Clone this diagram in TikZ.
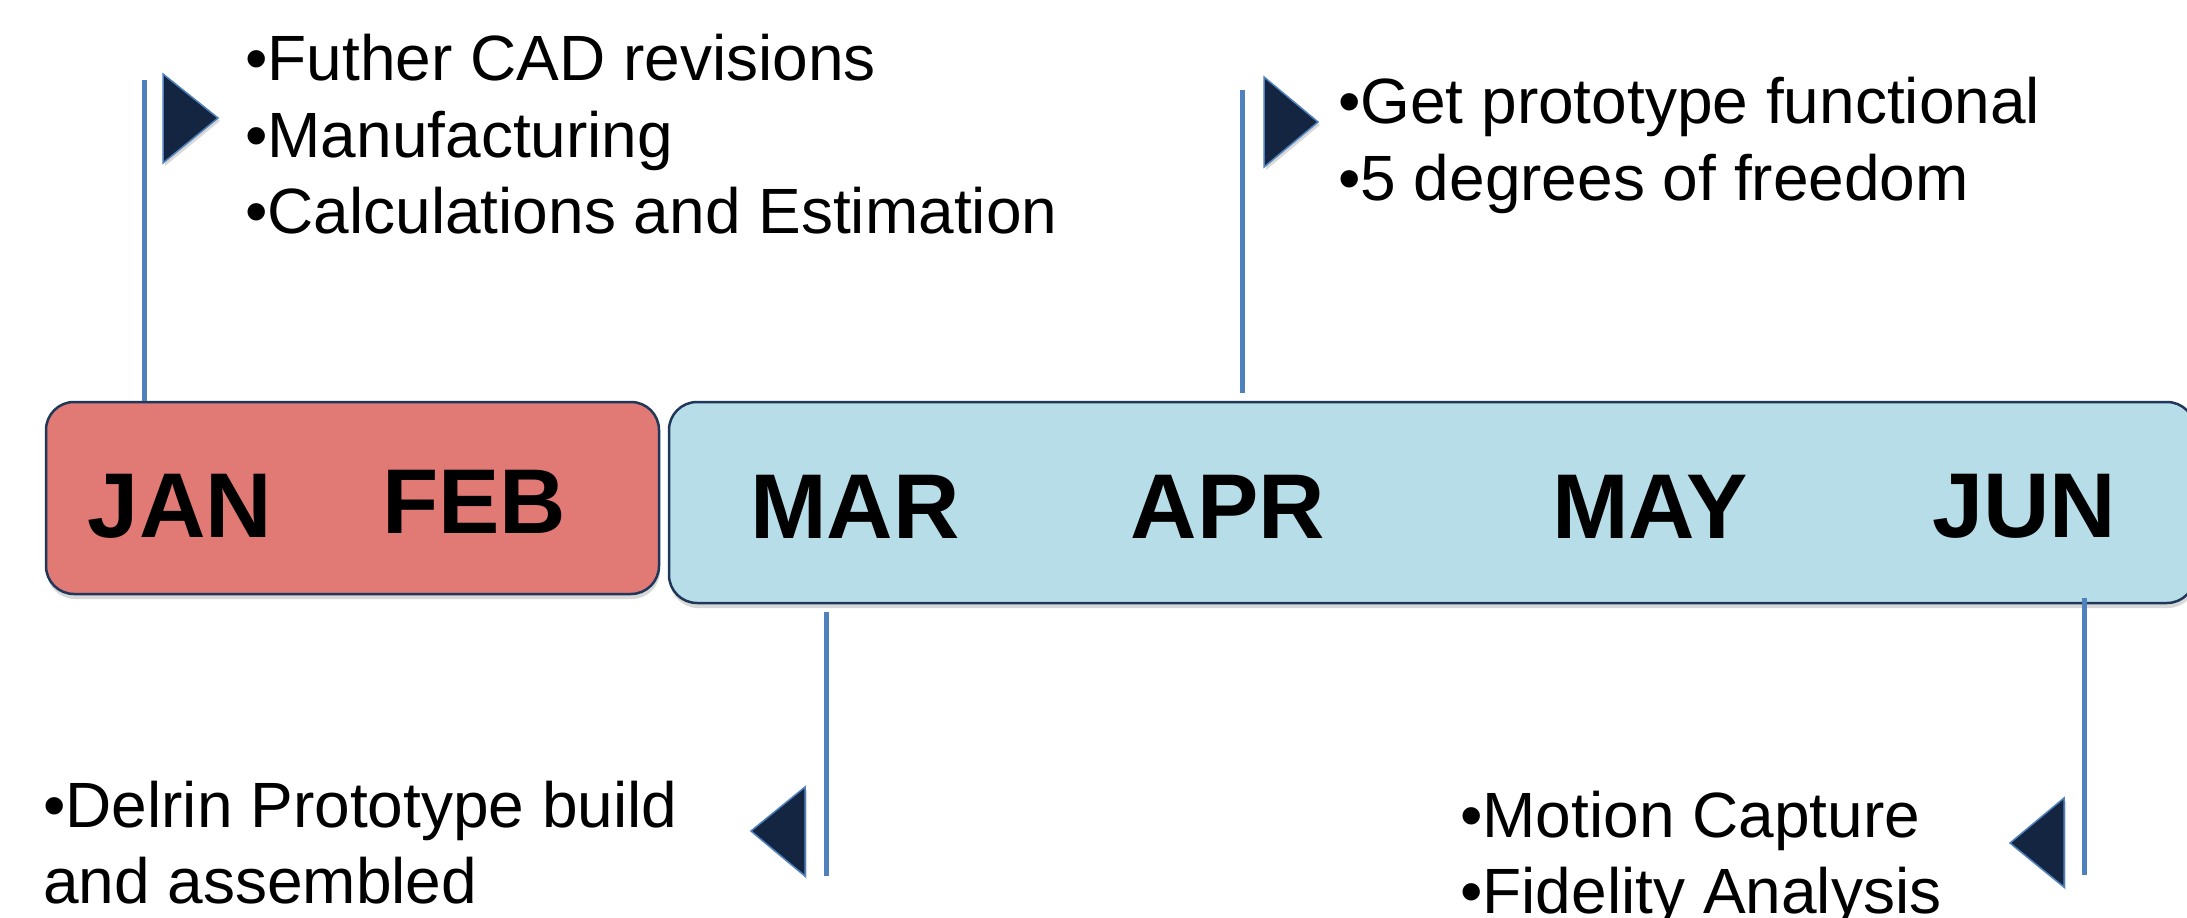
\documentclass[tikz,border=0pt]{standalone}
\usepackage{fontspec}
\setmainfont{Liberation Sans}
\usetikzlibrary{shadows}
\definecolor{redfill}{RGB}{225,121,117}
\definecolor{bluefill}{RGB}{183,222,232}
\definecolor{boxline}{RGB}{31,56,90}
\definecolor{stem}{RGB}{79,129,189}
\definecolor{flag}{RGB}{19,37,64}
\begin{document}
\begin{tikzpicture}[x=1pt,y=-1pt,
  box/.style={draw=boxline, line width=2.5pt, rounded corners=28pt,
    drop shadow={opacity=0.3, shadow xshift=1pt, shadow yshift=-5pt}, inner sep=0pt},
  month/.style={font=\fontsize{92}{110}\selectfont\bfseries, anchor=base, inner sep=0pt},
  item/.style={font=\fontsize{64}{77}\selectfont, anchor=base west, inner sep=0pt},
  stemline/.style={draw=stem, line width=5pt},
  flagtri/.style={fill=flag, draw=stem, line width=1.5pt, line join=miter,
    drop shadow={opacity=0.3, shadow xshift=2pt, shadow yshift=-3pt}}]
\useasboundingbox (0,0) rectangle (2187,918);
\clip (0,0) rectangle (2187,918);
\fill[white] (0,0) rectangle (2187,918);

% boxes
\node[box, fill=redfill, minimum width=613pt, minimum height=192pt] (red) at (352.5,498) {};
\node[box, fill=bluefill, minimum width=1526pt, minimum height=201pt] (blue) at (1432,502.5) {};

% months
\node[month] (jan) at (180,537) {JAN};
\node[month] (feb) at (474,533) {FEB};
\node[month] (mar) at (855,538) {MAR};
\node[month] (apr) at (1228,538) {APR};
\node[month] (may) at (1650,538) {MAY};
\node[month] (jun) at (2024,537) {JUN};

% stems
\coordinate (s1) at (144,80);
\coordinate (s2top) at (1242,90);
\coordinate (s2bot) at (1242,393);
\coordinate (s3top) at (826,612);
\coordinate (s3bot) at (826,876);
\coordinate (s4top) at (2084,598);
\coordinate (s4bot) at (2084,875);
\draw[stemline] (s1) -- (s1 |- red.north);
\draw[stemline] (s2top) -- (s2bot);
\draw[stemline] (s3top) -- (s3bot);
\draw[stemline] (s4top) -- (s4bot);

% flags
\draw[flagtri] (163,74) -- (163,163) -- (218,118) -- cycle;
\draw[flagtri] (1264,77) -- (1264,167) -- (1318,122) -- cycle;
\draw[flagtri] (805,787) -- (805,876) -- (751,831) -- cycle;
\draw[flagtri] (2064,798) -- (2064,887) -- (2010,843) -- cycle;

% texts
\node[item] (t1a) at (245,80) {•Futher CAD revisions};
\node[item] (t1b) at (245,157) {•Manufacturing};
\node[item] (t1c) at (245,233) {•Calculations and Estimation};
\node[item] (t2a) at (1338,123) {•Get prototype functional};
\node[item] (t2b) at (1338,200) {•5 degrees of freedom};
\node[item] (t3a) at (43,827) {•Delrin Prototype build};
\node[item] (t3b) at (43,903) {and assembled};
\node[item] (t4a) at (1460,837) {•Motion Capture};
\node[item] (t4b) at (1460,913) {•Fidelity Analysis};
\end{tikzpicture}
\end{document}
